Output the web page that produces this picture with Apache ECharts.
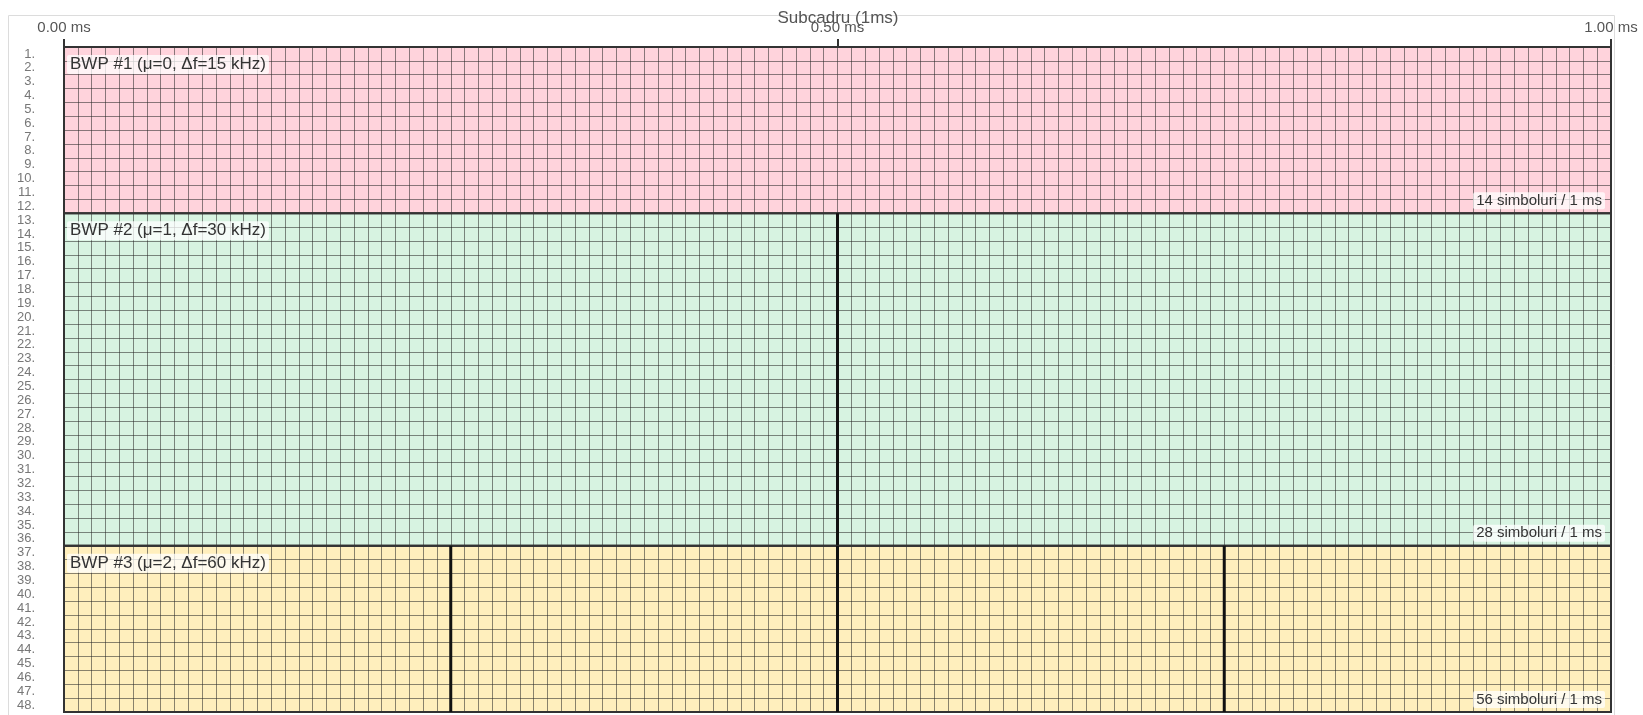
<!DOCTYPE html>
<html>
<head>
<meta charset="utf-8">
<script src="https://cdn.jsdelivr.net/npm/echarts@6/dist/echarts.min.js"></script>
<style>
  html, body { margin: 0; padding: 0; background: #fff; }
  #chart { width: 1643px; height: 715px; }
</style>
</head>
<body>
<div id="chart"></div>
<script>
// rows (resource blocks), shown top to bottom
const rowLabels = [
  "1.", "2.", "3.", "4.", "5.", "6.", "7.", "8.", "9.", "10.", "11.", "12.",
  "13.", "14.", "15.", "16.", "17.", "18.", "19.", "20.", "21.", "22.", "23.", "24.",
  "25.", "26.", "27.", "28.", "29.", "30.", "31.", "32.", "33.", "34.", "35.", "36.",
  "37.", "38.", "39.", "40.", "41.", "42.", "43.", "44.", "45.", "46.", "47.", "48."
];
const timeMin = 0;      // ms
const timeMax = 1;      // ms
const timeStep = 0.5;   // ms between tick labels
const gridColumns = 112; // fine time grid cells in one subframe

const bwpNames = ["BWP #1 (μ=0, Δf=15 kHz)", "BWP #2 (μ=1, Δf=30 kHz)", "BWP #3 (μ=2, Δf=60 kHz)"];
const bwpFirstRow = [0, 12, 36];
const bwpLastRow = [11, 35, 47];
const bwpNotes = ["14 simboluri / 1 ms", "28 simboluri / 1 ms", "56 simboluri / 1 ms"];
const bwpSlotEdges = [[], [0.5], [0.25, 0.5, 0.75]];
const bwpColors = ["#ffd3dc", "#d7f3e1", "#ffefbd"];

const bandData = bwpNames.map((n, i) => [timeMin, bwpFirstRow[i], timeMax, bwpLastRow[i]]);
const FONT = "Liberation Sans, Arial, sans-serif";

function bandBox(api) {
  const tl = api.coord([api.value(0), api.value(1)]);
  const br = api.coord([api.value(2), api.value(3)]);
  const h = api.size([0, 1])[1];
  return { x0: tl[0], x1: br[0], y0: tl[1] - h / 2, y1: br[1] + h / 2 };
}

const chart = echarts.init(document.getElementById("chart"));
chart.setOption({
  animation: false,
  textStyle: { fontFamily: FONT },
  title: {
    text: "Subcadru (1ms)",
    left: 833,
    top: 5,
    textAlign: "center",
    textStyle: { fontSize: 17, fontWeight: "normal", color: "#555" }
  },
  graphic: [{
    type: "rect",
    silent: true,
    shape: { x: 8.5, y: 15.5, width: 1606, height: 730 },
    style: { fill: null, stroke: "#dcdcdc", lineWidth: 1 },
    z: -10
  }],
  grid: { left: 64, right: 32, top: 47, bottom: 3 },
  xAxis: [{
    type: "value",
    position: "top",
    min: timeMin,
    max: timeMax,
    interval: timeStep,
    axisLine: { show: true, lineStyle: { color: "#333", width: 2 } },
    axisTick: { show: true, length: 8, lineStyle: { color: "#333", width: 2 } },
    axisLabel: {
      margin: 12,
      fontSize: 15,
      color: "#555",
      formatter: (v) => v.toFixed(2) + " ms"
    },
    splitLine: { show: false }
  }, {
    type: "value",
    position: "top",
    min: 0,
    max: gridColumns,
    interval: 1,
    axisLine: { show: false },
    axisTick: { show: false },
    axisLabel: { show: false },
    splitLine: { show: true, lineStyle: { color: "rgba(40,40,40,0.55)", width: 1 } }
  }],
  yAxis: {
    type: "category",
    data: rowLabels,
    inverse: true,
    axisLine: { show: false },
    axisTick: { show: false },
    axisLabel: { interval: 0, margin: 29, fontSize: 13, color: "#777" },
    splitLine: { show: true, interval: 0, lineStyle: { color: "rgba(40,40,40,0.55)", width: 1 } }
  },
  series: [{
    type: "custom",
    name: "fill",
    z: -1,
    silent: true,
    xAxisIndex: 0,
    yAxisIndex: 0,
    data: bandData,
    renderItem: (params, api) => {
      const b = bandBox(api);
      return {
        type: "rect",
        shape: { x: b.x0, y: b.y0, width: b.x1 - b.x0, height: b.y1 - b.y0 },
        style: { fill: bwpColors[params.dataIndex] }
      };
    }
  }, {
    type: "custom",
    name: "outline",
    z: 5,
    silent: true,
    xAxisIndex: 0,
    yAxisIndex: 0,
    data: bandData,
    renderItem: (params, api) => {
      const i = params.dataIndex;
      const b = bandBox(api);
      const children = [{
        type: "rect",
        shape: { x: b.x0, y: b.y0, width: b.x1 - b.x0, height: b.y1 - b.y0 },
        style: { fill: null, stroke: "#333", lineWidth: 2 }
      }];
      bwpSlotEdges[i].forEach((t) => {
        const x = api.coord([t, bwpFirstRow[i]])[0];
        children.push({
          type: "line",
          shape: { x1: x, y1: b.y0, x2: x, y2: b.y1 },
          style: { stroke: "#111", lineWidth: 3 }
        });
      });
      children.push({
        type: "text",
        x: b.x0 + 3,
        y: b.y0 + 8,
        style: {
          text: bwpNames[i],
          font: "17px " + FONT,
          fill: "#333",
          align: "left",
          verticalAlign: "top",
          backgroundColor: "rgba(255,255,255,0.75)",
          padding: [1, 3],
          borderRadius: 2
        }
      });
      children.push({
        type: "text",
        x: b.x1 - 6,
        y: b.y1 - 4,
        style: {
          text: bwpNotes[i],
          font: "15px " + FONT,
          fill: "#333",
          align: "right",
          verticalAlign: "bottom",
          backgroundColor: "rgba(255,255,255,0.75)",
          padding: [1, 3],
          borderRadius: 2
        }
      });
      return { type: "group", children: children };
    }
  }]
});
</script>
</body>
</html>
